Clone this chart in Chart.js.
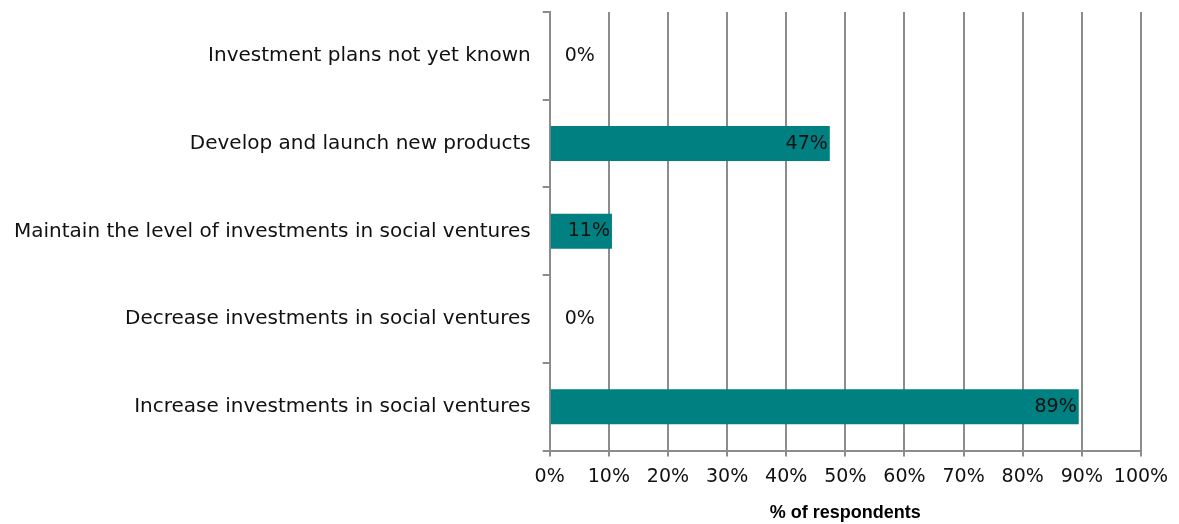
<!DOCTYPE html>
<html lang="en">
<head>
  <meta charset="UTF-8">
  <script src="https://cdn.jsdelivr.net/npm/chart.js"></script>
  <style>
    html, body { margin: 0; padding: 0; background: #fff; overflow: hidden; }
    .box { width: 1179px; height: 536px; position: relative; margin-top: -12px; }
  </style>
</head>
<body>
  <div class="box">
    <canvas id="grafico"></canvas>
  </div>

<script>
  // dados (de cima para baixo)
  const categorias = [
    'Investment plans not yet known',
    'Develop and launch new products',
    'Maintain the level of investments in social ventures',
    'Decrease investments in social ventures',
    'Increase investments in social ventures'
  ];
  const valores = [0, 47.37, 10.53, 0, 89.47];
  const ticksX = ['0%', '10%', '20%', '30%', '40%', '50%', '60%', '70%', '80%', '90%', '100%'];

  const corBarra = '#008080';
  const corGrade = '#8c8c8c';
  const fonte = '"DejaVu Sans", sans-serif';

  // rótulos dos valores, no fim da barra (ou ao lado do eixo quando 0)
  const rotulos = {
    id: 'rotulos',
    afterDatasetsDraw(chart) {
      const ctx = chart.ctx;
      const meta = chart.getDatasetMeta(0);
      ctx.save();
      ctx.font = '19px ' + fonte;
      ctx.fillStyle = '#111';
      ctx.textBaseline = 'middle';
      meta.data.forEach((barra, i) => {
        const txt = Math.round(valores[i]) + '%';
        if (valores[i] < 5) {
          ctx.textAlign = 'left';
          ctx.fillText(txt, barra.base + 15, barra.y);
        } else {
          ctx.textAlign = 'right';
          ctx.fillText(txt, barra.x - 2, barra.y);
        }
      });
      ctx.restore();
    }
  };

  new Chart(document.getElementById('grafico'), {
    type: 'bar',
    data: {
      labels: categorias,
      datasets: [{
        data: valores,
        backgroundColor: corBarra,
        barPercentage: 0.4,
        categoryPercentage: 1
      }]
    },
    options: {
      indexAxis: 'y',
      responsive: true,
      maintainAspectRatio: false,
      animation: false,
      layout: { padding: { top: 2, right: 38, left: 2, bottom: 0 } },
      plugins: {
        legend: { display: false },
        tooltip: { enabled: false }
      },
      scales: {
        x: {
          min: 0,
          max: 100,
          ticks: {
            stepSize: 10,
            color: '#111',
            font: { family: fonte, size: 19 },
            padding: 9,
            maxRotation: 0,
            minRotation: 0,
            autoSkip: false,
            callback: (v, i) => ticksX[i]
          },
          grid: { color: corGrade, lineWidth: 2, tickLength: 6 },
          border: { color: corGrade, width: 2 },
          title: {
            display: true,
            text: '% of respondents',
            color: '#000',
            font: { family: 'Liberation Sans, Arial, sans-serif', size: 18, weight: 'bold' },
            padding: { top: 5, bottom: 0 }
          }
        },
        y: {
          ticks: {
            color: '#111',
            font: { family: fonte, size: 20 },
            padding: 12
          },
          grid: { offset: true, drawOnChartArea: false, color: corGrade, lineWidth: 2, tickLength: 7 },
          border: { color: corGrade, width: 2 }
        }
      }
    },
    plugins: [rotulos]
  });
</script>
</body>
</html>
